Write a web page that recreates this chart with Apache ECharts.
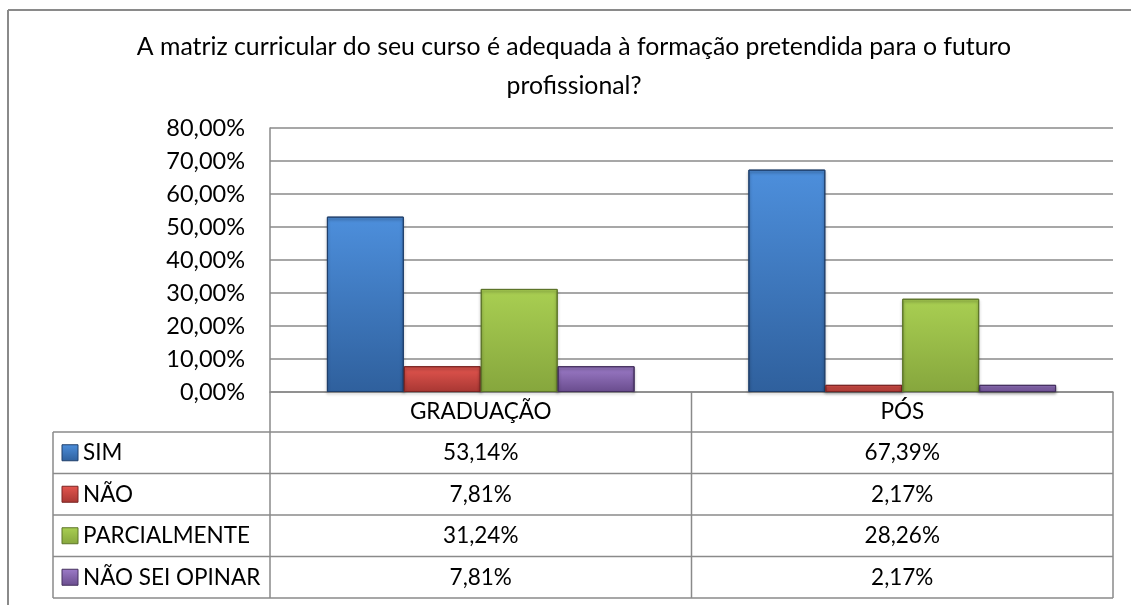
<!DOCTYPE html>
<html>
<head>
<meta charset="utf-8">
<script src="https://cdn.jsdelivr.net/npm/echarts@6/dist/echarts.min.js"></script>
<style>
  html, body { margin: 0; padding: 0; background: #fff; }
  #chart { width: 1131px; height: 605px; }
</style>
</head>
<body>
<div id="chart"></div>
<script>
// data
var categories = ['GRADUAÇÃO', 'PÓS'];
var seriesNames = ['SIM', 'NÃO', 'PARCIALMENTE', 'NÃO SEI OPINAR'];
var simValues = [53.14, 67.39];
var naoValues = [7.81, 2.17];
var parcialValues = [31.24, 28.26];
var naoSeiValues = [7.81, 2.17];
var yMin = 0, yMax = 80, yStep = 10;

var allValues = [simValues, naoValues, parcialValues, naoSeiValues];
// top colour, bottom colour, border
var palette = [
  ['#4d8fdc', '#2f609d', '#1f3f6b'],
  ['#e4564f', '#a83733', '#7a2523'],
  ['#a9cf52', '#86a63d', '#5c7429'],
  ['#9d7cc9', '#694c8d', '#44305e']
];

var FONT = 'Lato';
var gridColor = '#8a8a8a';
var gridLeft = 270, gridTop = 128, gridRight = 18, gridBottom = 213;

function pct(v) {
  return v.toFixed(2).replace('.', ',') + '%';
}

function grad(c) {
  return new echarts.graphic.LinearGradient(0, 0, 0, 1, [
    { offset: 0, color: c[0] },
    { offset: 1, color: c[1] }
  ]);
}

var series = [];
for (var i = 0; i < seriesNames.length; i++) {
  series.push({
    name: seriesNames[i],
    type: 'bar',
    data: allValues[i],
    barGap: '0%',
    barCategoryGap: '27%',
    itemStyle: {
      color: grad(palette[i]),
      borderColor: palette[i][2],
      borderWidth: 1,
      shadowColor: 'rgba(0,0,0,0.35)',
      shadowBlur: 3,
      shadowOffsetY: 2
    }
  });
}

var chart = echarts.init(document.getElementById('chart'));
chart.setOption({
  animation: false,
  backgroundColor: '#fff',
  textStyle: { fontFamily: FONT },
  grid: { left: gridLeft, top: gridTop, right: gridRight, bottom: gridBottom },
  xAxis: {
    type: 'category',
    data: categories,
    axisTick: { show: false },
    axisLine: { lineStyle: { color: gridColor, width: 1.5 } },
    axisLabel: { color: '#000', fontSize: 22.5, fontFamily: FONT, margin: 8 }
  },
  yAxis: {
    type: 'value',
    min: yMin, max: yMax, interval: yStep,
    axisLine: { show: true, lineStyle: { color: gridColor, width: 1.5 } },
    axisTick: { show: false },
    splitLine: { lineStyle: { color: gridColor, width: 1.5 } },
    axisLabel: { color: '#000', fontSize: 23.5, fontFamily: FONT, margin: 25, formatter: pct }
  },
  series: series
});

// title, outer frame and data table
var right = 1131 - gridRight;
var axisY = 605 - gridBottom;
var headerBottom = 432;
var rowH = 41.5;
var tableLeft = 53;
var els = [];

function line(x1, y1, x2, y2, w) {
  els.push({
    type: 'line', silent: true,
    shape: { x1: x1, y1: y1, x2: x2, y2: y2 },
    style: { stroke: gridColor, lineWidth: w || 1.5 }
  });
}
function text(str, x, y, align) {
  els.push({
    type: 'text', silent: true, x: x, y: y,
    style: { text: str, font: '22.5px ' + FONT, fill: '#000', align: align || 'center', verticalAlign: 'middle' }
  });
}

// outer frame (top + left visible)
line(8, 10, 1131, 10, 2);
line(8, 10, 8, 605, 2);

els.push({
  type: 'text', silent: true, x: 574, y: 28,
  style: {
    text: 'A matriz curricular do seu curso é adequada à formação pretendida para o futuro\nprofissional?',
    font: '24.8px ' + FONT, fill: '#000', align: 'center', verticalAlign: 'top', lineHeight: 39
  }
});

var bottom = headerBottom + rowH * seriesNames.length;
// vertical lines of table
line(gridLeft, axisY, gridLeft, bottom);
var mid = (gridLeft + right) / 2;
line(mid, axisY, mid, bottom);
line(right, axisY, right, bottom);
line(tableLeft, headerBottom, tableLeft, bottom);
// horizontal lines
for (var r = 0; r <= seriesNames.length; r++) {
  var yy = headerBottom + r * rowH;
  line(tableLeft, yy, right, yy);
}
for (var s = 0; s < seriesNames.length; s++) {
  var cy = headerBottom + s * rowH + rowH / 2;
  els.push({
    type: 'rect', silent: true,
    shape: { x: 62, y: cy - 8, width: 16, height: 16 },
    style: { fill: grad(palette[s]), stroke: palette[s][2], lineWidth: 1 }
  });
  text(seriesNames[s], 83, cy, 'left');
  for (var c = 0; c < categories.length; c++) {
    var cx = chart.convertToPixel({ xAxisIndex: 0 }, categories[c]);
    text(pct(allValues[s][c]), cx, cy, 'center');
  }
}
chart.setOption({ graphic: { elements: els } });
</script>
</body>
</html>
